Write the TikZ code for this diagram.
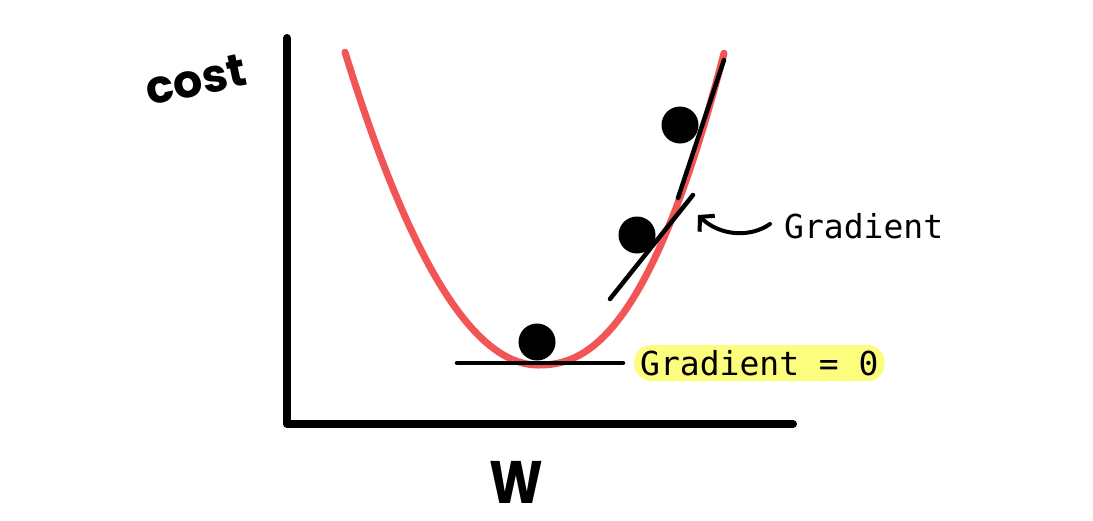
\documentclass[tikz,border=0pt]{standalone}
\usepackage{fontspec}
\usetikzlibrary{arrows.meta}
\newfontfamily\monofnt{DejaVu Sans Mono}
\newfontfamily\handfnt{Poppins}
\definecolor{curvered}{RGB}{242,85,85}
\definecolor{hlyellow}{RGB}{252,252,125}
\tikzset{
  axisline/.style={line width=8pt, line cap=round, line join=round},
  tangentline/.style={line width=4.5pt, line cap=round},
  ball/.style={circle, fill=black, inner sep=0pt, minimum size=37pt},
  costcurve/.style={line width=7pt, curvered, line cap=round, line join=round},
  monolabel/.style={font=\monofnt\fontsize{33}{36}\selectfont, inner sep=0pt},
  handlabel/.style={inner sep=0pt},
}
\begin{document}
\begin{tikzpicture}[x=1pt,y=-1pt]
\useasboundingbox (0,0) rectangle (1093,520);
% axes
\coordinate (ytop) at (287,38);
\coordinate (origin) at (287,424);
\coordinate (xend) at (793,424);
\draw[axisline] (ytop) -- (origin) -- (xend);
% cost curve
\draw[costcurve]
  plot[domain=-19.3:0, samples=60] ({538+10*\x}, {365-0.84*\x*\x})
  -- plot[domain=0.05:18.6, samples=60] ({538+10*\x}, {365-0.375*\x*\x*pow(\x,0.3)});
% tangent lines
\coordinate (t1a) at (678,198);
\coordinate (t1b) at (724,60);
\draw[tangentline] (t1a) -- (t1b);
\coordinate (t2a) at (610,299);
\coordinate (t2b) at (693,195);
\draw[tangentline] (t2a) -- (t2b);
\coordinate (t3a) at (457,363);
\coordinate (t3b) at (623,363);
\draw[tangentline] (t3a) -- (t3b);
% balls
\node[ball] (b1) at (680,125) {};
\node[ball] (b2) at (637,235) {};
\node[ball] (b3) at (537,342) {};
% labels
\node[monolabel, anchor=west] (grad) at (784,226) {Gradient};
\node[monolabel, fill=hlyellow, rounded corners=17pt, inner xsep=6pt, minimum height=36pt, anchor=west] (grad0) at (634,363) {Gradient = 0};
% arrow
\coordinate (arrtip) at (698,215);
\draw[line width=4pt, line cap=round, -{Straight Barb[length=10pt, width=22pt, line width=4pt]}]
  (grad.west) ++(-14,-2) .. controls (750,238) and (720,236) .. (arrtip);
% axis labels
\node[handlabel, font=\handfnt\bfseries\fontsize{46}{50}\selectfont, rotate=12] (cost) at (196,80) {cost};
\node[handlabel, font=\handfnt\bfseries\fontsize{60}{60}\selectfont, xscale=0.85] (w) at (516,482) {W};
\end{tikzpicture}
\end{document}
